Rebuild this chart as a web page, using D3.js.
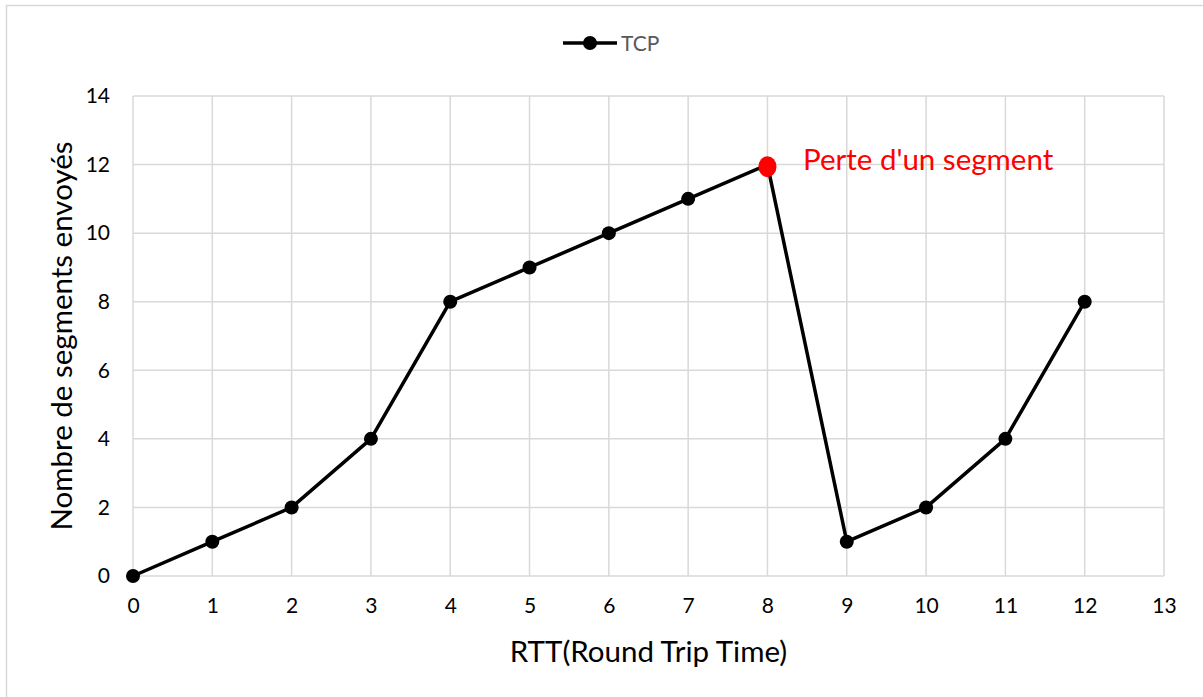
<!DOCTYPE html>
<html>
<head>
<meta charset="utf-8">
<script src="https://cdn.jsdelivr.net/npm/d3@7"></script>
<style>
  html, body { margin: 0; padding: 0; background: #fff; }
  svg { display: block; font-family: Lato, "Open Sans", sans-serif; }
</style>
</head>
<body>
<svg id="chart" width="1203" height="697"></svg>
<script>
// TCP congestion window per round trip
const rtt = [0, 1, 2, 3, 4, 5, 6, 7, 8, 9, 10, 11, 12];
const segments = [0, 1, 2, 4, 8, 9, 10, 11, 12, 1, 2, 4, 8];
const xTicks = [0, 1, 2, 3, 4, 5, 6, 7, 8, 9, 10, 11, 12, 13];
const yTicks = [0, 2, 4, 6, 8, 10, 12, 14];
const lossPoint = [8, 11.94];
const lossLabel = "Perte d'un segment";
const seriesName = "TCP";
const xTitle = "RTT(Round Trip Time)";
const yTitle = "Nombre de segments envoyés";

const svg = d3.select("#chart");
const W = 1203, H = 697;
const plot = { left: 133, right: 1164, top: 96, bottom: 576 };

// outer frame
svg.append("rect")
  .attr("x", 6.5).attr("y", 5.5)
  .attr("width", W + 10).attr("height", H + 10)
  .attr("fill", "#fff").attr("stroke", "#d9d9d9").attr("stroke-width", 1.5);

const x = d3.scaleLinear().domain([0, 13]).range([plot.left, plot.right]);
const y = d3.scaleLinear().domain([0, 14]).range([plot.bottom, plot.top]);

// gridlines
const grid = svg.append("g").attr("stroke", "#d9d9d9").attr("stroke-width", 1.5);
grid.selectAll("line.v").data(xTicks).join("line")
  .attr("x1", d => x(d)).attr("x2", d => x(d))
  .attr("y1", plot.top).attr("y2", plot.bottom);
grid.selectAll("line.h").data(yTicks).join("line")
  .attr("x1", plot.left).attr("x2", plot.right)
  .attr("y1", d => y(d)).attr("y2", d => y(d));

// axes (labels only, gridlines serve as axis lines)
const xAxis = svg.append("g")
  .attr("transform", `translate(0,${plot.bottom})`)
  .call(d3.axisBottom(x).tickValues(xTicks).tickSize(0).tickPadding(22).tickFormat(d3.format("d")));
const yAxis = svg.append("g")
  .attr("transform", `translate(${plot.left},0)`)
  .call(d3.axisLeft(y).tickValues(yTicks).tickSize(0).tickPadding(23).tickFormat(d3.format("d")));
[xAxis, yAxis].forEach(a => {
  a.select(".domain").remove();
  a.selectAll("text").attr("font-size", 21).attr("fill", "#000")
    .attr("font-family", "Lato, 'Open Sans', sans-serif");
});

// axis titles
svg.append("text")
  .attr("x", (plot.left + plot.right) / 2).attr("y", 662)
  .attr("text-anchor", "middle").attr("font-size", 29.5).attr("fill", "#000")
  .text(xTitle);
svg.append("text")
  .attr("transform", `translate(72,${(plot.top + plot.bottom) / 2}) rotate(-90)`)
  .attr("text-anchor", "middle").attr("font-size", 29.5).attr("fill", "#000")
  .text(yTitle);

// series line and markers
const data = rtt.map((r, i) => ({ r, v: segments[i] }));
svg.append("path")
  .datum(data)
  .attr("fill", "none").attr("stroke", "#000").attr("stroke-width", 3.5)
  .attr("stroke-linejoin", "round")
  .attr("d", d3.line().x(d => x(d.r)).y(d => y(d.v)));
svg.append("g").selectAll("circle").data(data).join("circle")
  .attr("cx", d => x(d.r)).attr("cy", d => y(d.v)).attr("r", 7)
  .attr("fill", "#000");

// segment loss marker
svg.append("ellipse")
  .attr("cx", x(lossPoint[0])).attr("cy", y(lossPoint[1]))
  .attr("rx", 9).attr("ry", 10.5).attr("fill", "#ff0000");
svg.append("text")
  .attr("x", 803).attr("y", 170)
  .attr("font-size", 29.5).attr("fill", "#ff0000")
  .text(lossLabel);

// legend
const lg = svg.append("g").attr("transform", "translate(563,43)");
lg.append("line").attr("x1", 0).attr("x2", 54).attr("y1", 0).attr("y2", 0)
  .attr("stroke", "#000").attr("stroke-width", 3.5);
lg.append("circle").attr("cx", 27).attr("cy", 0).attr("r", 7).attr("fill", "#000");
lg.append("text").attr("x", 58).attr("y", 7.5).attr("font-size", 21)
  .attr("fill", "#595959").text(seriesName);
</script>
</body>
</html>
